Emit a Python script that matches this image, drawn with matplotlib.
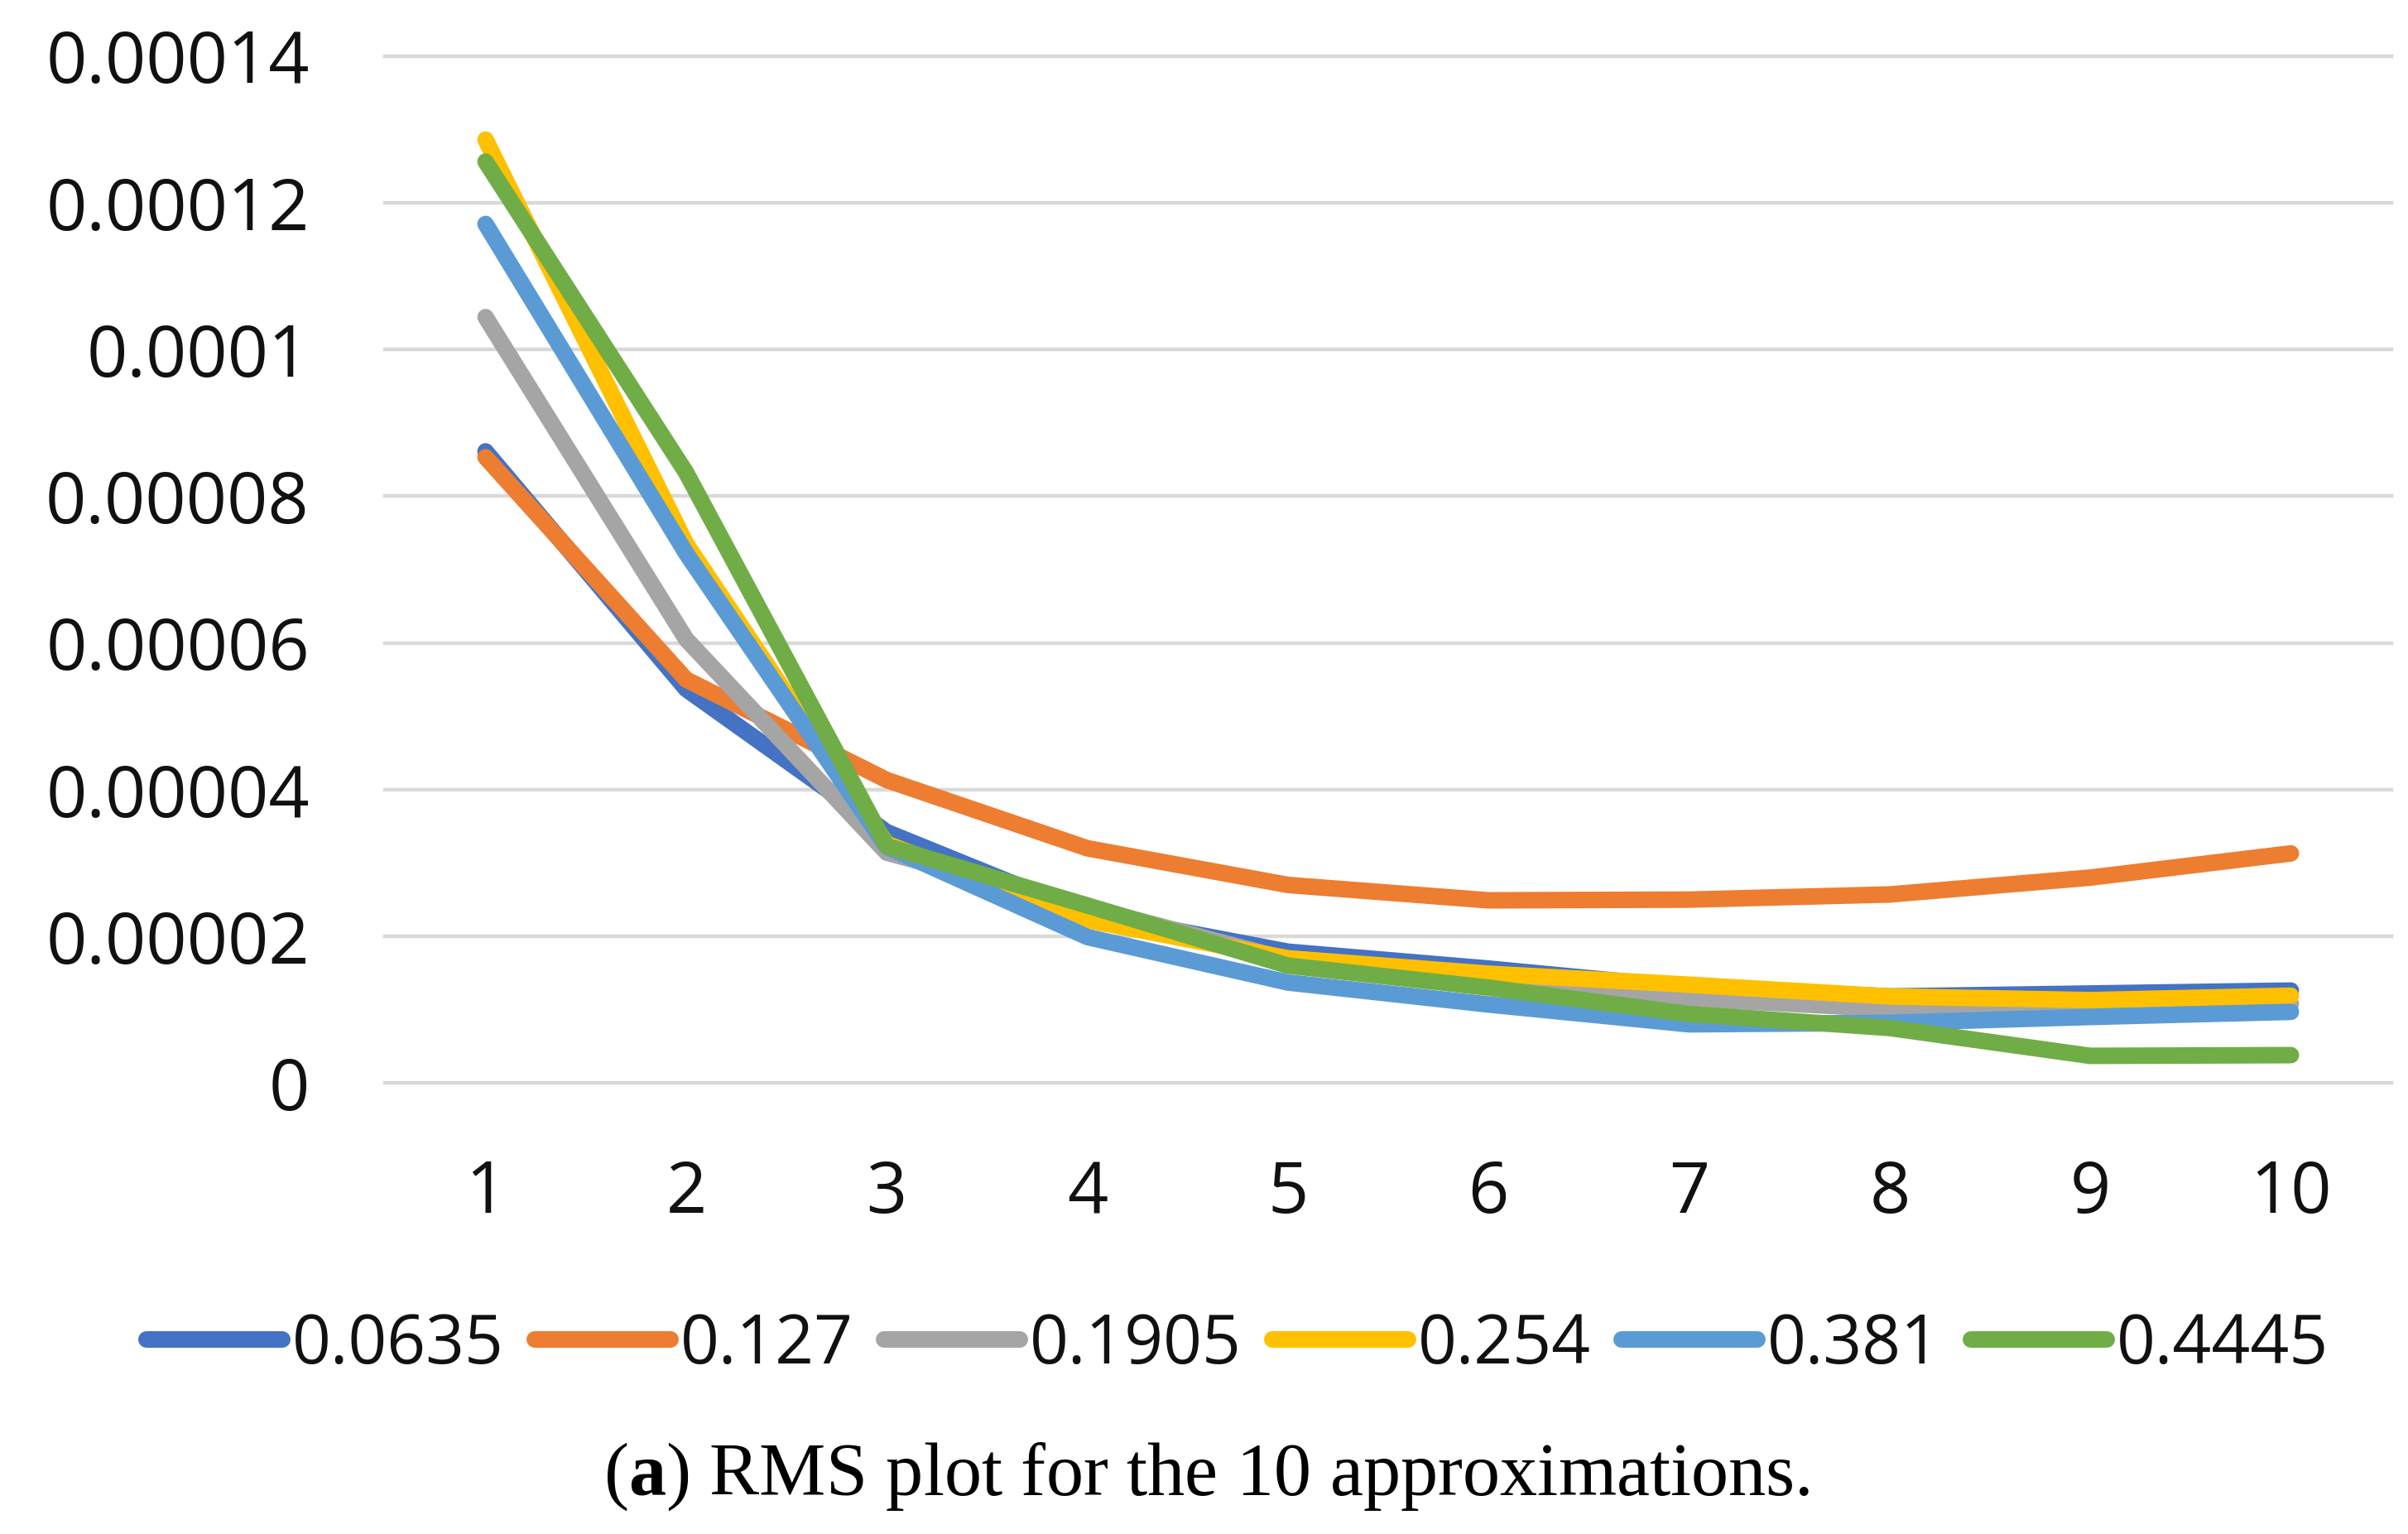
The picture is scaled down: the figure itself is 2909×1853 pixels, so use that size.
import matplotlib.pyplot as plt
from matplotlib.lines import Line2D

# Datos
aproximaciones = [1, 2, 3, 4, 5, 6, 7, 8, 9, 10]

serie_0635 = [0.0000861, 0.0000537, 0.0000342, 0.0000231, 0.0000179, 0.0000156, 0.0000130, 0.0000118, 0.0000122, 0.0000126]
serie_127 = [0.0000853, 0.0000550, 0.0000413, 0.0000320, 0.0000270, 0.0000249, 0.0000250, 0.0000257, 0.0000280, 0.0000313]
serie_1905 = [0.0001044, 0.0000605, 0.0000314, 0.0000240, 0.0000168, 0.0000145, 0.0000115, 0.0000101, 0.0000102, 0.0000108]
serie_254 = [0.0001286, 0.0000735, 0.0000326, 0.0000222, 0.0000170, 0.0000149, 0.0000134, 0.0000118, 0.0000113, 0.0000119]
serie_381 = [0.0001171, 0.0000722, 0.0000322, 0.0000199, 0.0000137, 0.0000107, 0.0000080, 0.0000082, 0.0000090, 0.0000097]
serie_4445 = [0.0001256, 0.0000832, 0.0000323, 0.0000242, 0.0000160, 0.0000130, 0.0000094, 0.0000075, 0.0000037, 0.0000038]

etiquetas = ["0.0635", "0.127", "0.1905", "0.254", "0.381", "0.4445"]
colores = ["#4472C4", "#ED7D31", "#A5A5A5", "#FFC000", "#5B9BD5", "#70AD47"]

ticks_y = [0, 0.00002, 0.00004, 0.00006, 0.00008, 0.0001, 0.00012, 0.00014]
etiquetas_y = ["0", "0.00002", "0.00004", "0.00006", "0.00008", "0.0001", "0.00012", "0.00014"]

series = [serie_0635, serie_127, serie_1905, serie_254, serie_381, serie_4445]

plt.rcParams["font.family"] = ["Open Sans", "DejaVu Sans"]
plt.rcParams["mathtext.fontset"] = "custom"
plt.rcParams["mathtext.bf"] = "Liberation Serif:bold"

fig = plt.figure(figsize=(14.545, 9.265), dpi=200)
ax = fig.add_axes([0.160, 0.294, 0.833, 0.6695])

for valores, color in zip(series, colores):
    ax.plot(aproximaciones, valores, color=color, linewidth=7.2,
            solid_capstyle="round", solid_joinstyle="round")

ax.set_xlim(0.5, 10.5)
ax.set_ylim(0, 0.00014)
ax.set_xticks(aproximaciones)
ax.set_yticks(ticks_y)
ax.set_yticklabels(etiquetas_y)
ax.tick_params(axis="both", length=0, labelsize=31, pad=33, labelcolor="#111111")

ax.grid(axis="y", color="#d9d9d9", linewidth=1.6)
ax.set_axisbelow(True)
for gl in ax.get_ygridlines():
    gl.set_clip_on(False)

for lado in ["top", "right", "left", "bottom"]:
    ax.spines[lado].set_visible(False)

manijas = [Line2D([0], [0], color=c, linewidth=7.2, solid_capstyle="round") for c in colores]
fig.legend(manijas, etiquetas, loc="center", bbox_to_anchor=(0.514, 0.1226), ncol=6,
           frameon=False, fontsize=29.5, handlelength=2.0, handletextpad=0.15,
           columnspacing=0.45, labelcolor="#111111")

fig.text(0.501, 0.0375, r"($\mathbf{a}$) RMS plot for the 10 approximations.",
         ha="center", va="center", fontsize=32.5, family="Liberation Serif")

fig.savefig("out.png", dpi=200)
